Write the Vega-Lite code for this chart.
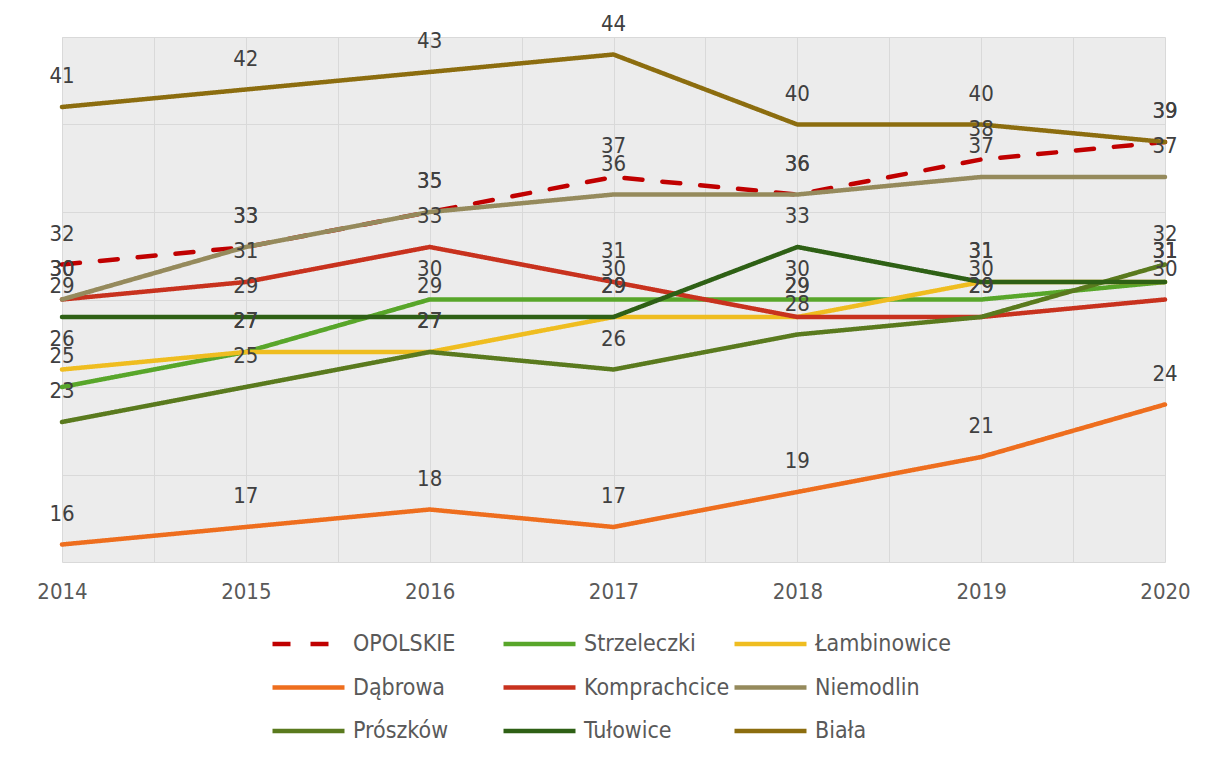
{
  "$schema": "https://vega.github.io/schema/vega-lite/v6.json",
  "autosize": {"type": "none"},
  "width": 1103,
  "height": 525,
  "padding": {"left": 62, "top": 37, "right": 40, "bottom": 196},
  "background": "#ffffff",
  "config": {
    "font": "DejaVu Sans Condensed, DejaVu Sans",
    "view": {"fill": "#ececec", "stroke": null}
  },
  "data": {
    "values": [
      {"year": 2014, "series": "OPOLSKIE", "value": 32},
      {"year": 2015, "series": "OPOLSKIE", "value": 33},
      {"year": 2016, "series": "OPOLSKIE", "value": 35},
      {"year": 2017, "series": "OPOLSKIE", "value": 37},
      {"year": 2018, "series": "OPOLSKIE", "value": 36},
      {"year": 2019, "series": "OPOLSKIE", "value": 38},
      {"year": 2020, "series": "OPOLSKIE", "value": 39},
      {"year": 2014, "series": "Strzeleczki", "value": 25},
      {"year": 2015, "series": "Strzeleczki", "value": 27},
      {"year": 2016, "series": "Strzeleczki", "value": 30},
      {"year": 2017, "series": "Strzeleczki", "value": 30},
      {"year": 2018, "series": "Strzeleczki", "value": 30},
      {"year": 2019, "series": "Strzeleczki", "value": 30},
      {"year": 2020, "series": "Strzeleczki", "value": 31},
      {"year": 2014, "series": "Łambinowice", "value": 26},
      {"year": 2015, "series": "Łambinowice", "value": 27},
      {"year": 2016, "series": "Łambinowice", "value": 27},
      {"year": 2017, "series": "Łambinowice", "value": 29},
      {"year": 2018, "series": "Łambinowice", "value": 29},
      {"year": 2019, "series": "Łambinowice", "value": 31},
      {"year": 2020, "series": "Łambinowice", "value": 31},
      {"year": 2014, "series": "Dąbrowa", "value": 16},
      {"year": 2015, "series": "Dąbrowa", "value": 17},
      {"year": 2016, "series": "Dąbrowa", "value": 18},
      {"year": 2017, "series": "Dąbrowa", "value": 17},
      {"year": 2018, "series": "Dąbrowa", "value": 19},
      {"year": 2019, "series": "Dąbrowa", "value": 21},
      {"year": 2020, "series": "Dąbrowa", "value": 24},
      {"year": 2014, "series": "Komprachcice", "value": 30},
      {"year": 2015, "series": "Komprachcice", "value": 31},
      {"year": 2016, "series": "Komprachcice", "value": 33},
      {"year": 2017, "series": "Komprachcice", "value": 31},
      {"year": 2018, "series": "Komprachcice", "value": 29},
      {"year": 2019, "series": "Komprachcice", "value": 29},
      {"year": 2020, "series": "Komprachcice", "value": 30},
      {"year": 2014, "series": "Niemodlin", "value": 30},
      {"year": 2015, "series": "Niemodlin", "value": 33},
      {"year": 2016, "series": "Niemodlin", "value": 35},
      {"year": 2017, "series": "Niemodlin", "value": 36},
      {"year": 2018, "series": "Niemodlin", "value": 36},
      {"year": 2019, "series": "Niemodlin", "value": 37},
      {"year": 2020, "series": "Niemodlin", "value": 37},
      {"year": 2014, "series": "Prószków", "value": 23},
      {"year": 2015, "series": "Prószków", "value": 25},
      {"year": 2016, "series": "Prószków", "value": 27},
      {"year": 2017, "series": "Prószków", "value": 26},
      {"year": 2018, "series": "Prószków", "value": 28},
      {"year": 2019, "series": "Prószków", "value": 29},
      {"year": 2020, "series": "Prószków", "value": 32},
      {"year": 2014, "series": "Tułowice", "value": 29},
      {"year": 2015, "series": "Tułowice", "value": 29},
      {"year": 2016, "series": "Tułowice", "value": 29},
      {"year": 2017, "series": "Tułowice", "value": 29},
      {"year": 2018, "series": "Tułowice", "value": 33},
      {"year": 2019, "series": "Tułowice", "value": 31},
      {"year": 2020, "series": "Tułowice", "value": 31},
      {"year": 2014, "series": "Biała", "value": 41},
      {"year": 2015, "series": "Biała", "value": 42},
      {"year": 2016, "series": "Biała", "value": 43},
      {"year": 2017, "series": "Biała", "value": 44},
      {"year": 2018, "series": "Biała", "value": 40},
      {"year": 2019, "series": "Biała", "value": 40},
      {"year": 2020, "series": "Biała", "value": 39}
    ]
  },
  "encoding": {
    "x": {
      "field": "year",
      "type": "quantitative",
      "scale": {"domain": [2014, 2020], "nice": false, "zero": false},
      "axis": {
        "title": null,
        "values": [2014, 2014.5, 2015, 2015.5, 2016, 2016.5, 2017, 2017.5, 2018, 2018.5, 2019, 2019.5, 2020],
        "labelExpr": "datum.value % 1 === 0 ? format(datum.value, 'd') : ''",
        "grid": true,
        "gridColor": "#d9d9d9",
        "gridWidth": 1,
        "domain": false,
        "ticks": false,
        "labelPadding": 19,
        "labelFontSize": 22,
        "labelColor": "#595959",
        "labelFlush": false,
        "labelOverlap": false
      }
    },
    "y": {
      "field": "value",
      "type": "quantitative",
      "scale": {"domain": [15, 45], "nice": false, "zero": false},
      "axis": {
        "title": null,
        "values": [15, 20, 25, 30, 35, 40, 45],
        "labels": false,
        "ticks": false,
        "domain": false,
        "grid": true,
        "gridColor": "#d9d9d9",
        "gridWidth": 1
      }
    }
  },
  "layer": [
    {
      "mark": {"type": "line", "strokeWidth": 4.5, "strokeCap": "round", "strokeJoin": "round"},
      "encoding": {
        "color": {
          "field": "series",
          "type": "nominal",
          "sort": null,
          "scale": {
            "domain": ["OPOLSKIE", "Strzeleczki", "Łambinowice", "Dąbrowa", "Komprachcice", "Niemodlin", "Prószków", "Tułowice", "Biała"],
            "range": ["#c00000", "#58a62a", "#efbd20", "#ee6e1e", "#c8321e", "#958a5c", "#5a7a1e", "#2e6015", "#8c6d0f"]
          },
          "legend": {
            "title": null,
            "orient": "none",
            "direction": "horizontal",
            "legendX": 208,
            "legendY": 593,
            "columns": 3,
            "gridAlign": "all",
            "columnPadding": 2,
            "rowPadding": 15.5,
            "symbolType": "stroke",
            "symbolSize": 5184,
            "symbolStrokeWidth": 4.5,
            "clipHeight": 28,
            "labelFontSize": 23,
            "labelColor": "#595959",
            "labelOffset": 6,
            "labelLimit": 300
          }
        },
        "strokeDash": {
          "field": "series",
          "type": "nominal",
          "sort": null,
          "scale": {
            "domain": ["OPOLSKIE", "Strzeleczki", "Łambinowice", "Dąbrowa", "Komprachcice", "Niemodlin", "Prószków", "Tułowice", "Biała"],
            "range": [[18, 20], [1, 0], [1, 0], [1, 0], [1, 0], [1, 0], [1, 0], [1, 0], [1, 0]]
          },
          "legend": {
            "title": null,
            "orient": "none",
            "direction": "horizontal",
            "legendX": 208,
            "legendY": 593,
            "columns": 3,
            "gridAlign": "all",
            "columnPadding": 2,
            "rowPadding": 15.5,
            "symbolType": "stroke",
            "symbolSize": 5184,
            "symbolStrokeWidth": 4.5,
            "clipHeight": 28,
            "labelFontSize": 23,
            "labelColor": "#595959",
            "labelOffset": 6,
            "labelLimit": 300
          }
        }
      }
    },
    {
      "mark": {"type": "text", "dy": -31, "baseline": "middle", "align": "center", "fontSize": 22, "color": "#404040"},
      "encoding": {
        "text": {"field": "value", "type": "quantitative"}
      }
    }
  ]
}
